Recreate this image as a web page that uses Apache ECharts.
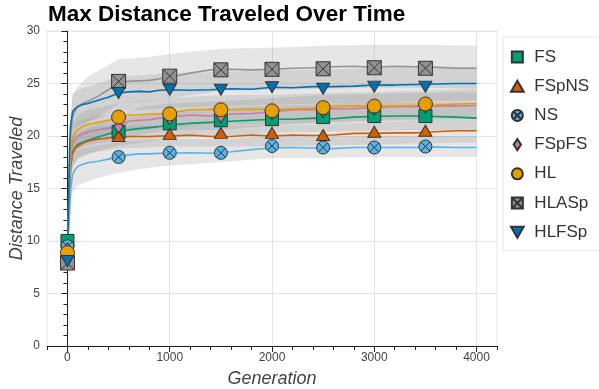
<!DOCTYPE html>
<html><head><meta charset="utf-8">
<script src="https://cdn.jsdelivr.net/npm/echarts@6/dist/echarts.min.js"></script>
<style>html,body{margin:0;padding:0;background:#fff}#c{width:599px;height:389px}</style>
</head><body><div id="c"></div>
<script>
const seriesNames = ['FS','FSpNS','NS','FSpFS','HL','HLASp','HLFSp'];
const seriesColors = ['#009E73','#D55E00','#56B4E9','#CC79A7','#E69F00','#939393','#0072B2'];
const xLabelValues = [0,1000,2000,3000,4000];

const lineGen = [0,10,20,30,50,75,100,150,200,300,400,500,600,700,800,900,1000,1200,1400,1600,1800,2000,2200,2400,2600,2800,3000,3200,3400,3600,3800,4000];
const FS_line    = [10.0,11.5,15.0,17.0,18.5,18.9,19.2,19.4,19.6,19.9,20.2,20.4,20.6,20.7,20.8,20.9,21.05,21.2,21.3,21.4,21.5,21.6,21.6,21.7,21.65,21.8,21.85,21.9,21.9,21.85,21.8,21.7];
const FSpNS_line = [8.7,11.5,15.0,17.0,18.3,18.8,19.0,19.3,19.5,19.7,19.8,19.9,19.95,19.95,19.95,20.0,20.0,20.1,19.95,19.95,20.1,20.0,20.1,20.05,20.1,20.25,20.25,20.3,20.3,20.4,20.5,20.5];
const NS_line    = [9.5,11.0,12.8,14.8,16.3,16.8,17.1,17.3,17.45,17.6,17.8,18.0,18.2,18.3,18.3,18.35,18.35,18.4,18.35,18.5,18.7,18.85,18.9,18.85,18.8,18.9,18.9,18.9,18.9,18.95,18.9,18.9];
const FSpFS_line = [9.3,12.0,15.5,17.8,19.3,19.7,20.0,20.2,20.4,20.6,20.75,20.9,21.4,21.5,21.55,21.7,21.8,22.0,21.9,22.1,22.15,22.3,22.5,22.5,22.6,22.6,22.7,22.8,22.8,22.85,22.85,22.9];
const HL_line    = [8.9,12.0,16.0,18.3,19.8,20.3,20.6,20.9,21.1,21.3,21.5,21.7,22.0,22.0,22.1,22.1,22.2,22.5,22.55,22.5,22.55,22.5,22.6,22.65,22.8,22.85,22.85,22.85,22.9,22.95,23.05,23.1];
const HLASp_line = [7.9,12.5,17.0,20.0,21.8,22.4,22.8,23.1,23.3,23.8,24.4,25.1,25.2,25.25,25.3,25.45,25.6,26.0,26.3,26.35,26.3,26.35,26.45,26.5,26.6,26.65,26.55,26.65,26.6,26.55,26.45,26.45];
const HLFSp_line = [8.1,13.5,18.5,21.0,22.3,22.6,22.8,23.0,23.1,23.4,23.7,24.1,24.2,24.25,24.2,24.35,24.4,24.35,24.4,24.5,24.45,24.65,24.6,24.7,24.7,24.75,24.85,24.85,24.9,24.95,25.0,25.0];

const markerGen = [0,500,1000,1500,2000,2500,3000,3500];
const FS_mk    = [10.0,20.4,21.2,21.5,21.6,21.8,21.9,21.9];
const FSpNS_mk = [8.7,20.0,20.2,20.3,20.3,20.1,20.4,20.5];
const NS_mk    = [9.5,18.0,18.4,18.4,19.05,18.9,18.9,19.0];
const FSpFS_mk = [9.2,20.9,21.7,21.9,22.2,22.4,22.6,22.8];
const HL_mk    = [8.9,21.8,22.1,22.5,22.4,22.7,22.85,23.05];
const HLASp_mk = [7.9,25.2,25.7,26.3,26.35,26.4,26.5,26.45];
const HLFSp_mk = [8.1,24.1,24.4,24.4,24.65,24.5,24.7,24.7];

const bandGen = [0,25,50,100,200,300,500,750,1000,1500,2000,2500,3000,3500,4000];
const FS_lo    = [9.5,14.5,17.1,17.9,18.3,18.6,19.1,19.4,19.8,20.0,20.3,20.4,20.5,20.6,20.4];
const FS_hi    = [10.5,17.5,19.9,20.5,20.9,21.2,21.7,22.0,22.3,22.7,22.9,23.0,23.2,23.2,23.0];
const FSpNS_lo = [8.2,14.5,17.0,17.8,18.3,18.5,18.8,18.9,19.0,19.0,19.0,19.1,19.2,19.3,19.4];
const FSpNS_hi = [9.2,17.5,19.6,20.2,20.7,20.9,21.0,21.0,21.0,21.0,21.0,21.1,21.3,21.5,21.6];
const NS_lo    = [9.0,12.0,14.6,15.3,15.7,16.0,16.5,16.9,17.2,17.5,17.9,17.9,18.0,18.0,18.0];
const NS_hi    = [10.0,15.0,17.8,18.6,18.9,19.1,19.4,19.6,19.7,19.7,20.0,19.9,20.0,20.0,20.0];
const FSpFS_lo = [8.8,15.0,17.9,18.7,19.1,19.3,19.6,20.2,20.5,20.6,21.0,21.2,21.4,21.5,21.6];
const FSpFS_hi = [9.8,18.0,20.7,21.3,21.7,21.9,22.2,22.8,23.1,23.3,23.6,23.9,24.0,24.1,24.2];
const HL_lo    = [8.4,15.5,18.4,19.2,19.7,19.9,20.3,20.6,20.8,21.1,21.1,21.3,21.5,21.6,21.7];
const HL_hi    = [9.4,18.5,21.2,22.0,22.5,22.7,23.1,23.4,23.6,23.9,23.9,24.1,24.2,24.3,24.5];
const HLASp_lo = [7.5,16.0,19.9,20.8,21.3,21.8,23.1,23.3,23.6,24.3,24.4,24.5,24.6,24.6,24.5];
const HLASp_hi = [8.4,20.2,24.0,24.7,25.7,26.2,27.3,27.5,27.8,28.3,28.4,28.6,28.7,28.7,28.6];
const HLFSp_lo = [7.6,17.5,20.6,21.1,21.4,21.7,22.4,22.5,22.7,22.8,23.0,23.1,23.2,23.3,23.4];
const HLFSp_hi = [8.6,21.5,23.9,24.4,24.7,25.0,25.7,25.8,26.0,26.1,26.3,26.3,26.5,26.6,26.6];

const lines = [FS_line,FSpNS_line,NS_line,FSpFS_line,HL_line,HLASp_line,HLFSp_line];
const marks = [FS_mk,FSpNS_mk,NS_mk,FSpFS_mk,HL_mk,HLASp_mk,HLFSp_mk];
const los = [FS_lo,FSpNS_lo,NS_lo,FSpFS_lo,HL_lo,HLASp_lo,HLFSp_lo];
const his = [FS_hi,FSpNS_hi,NS_hi,FSpFS_hi,HL_hi,HLASp_hi,HLFSp_hi];

const P = {
  rect: 'path://M0,0L10,0L10,10L0,10Z',
  tri: 'path://M5,0L10,8.66L0,8.66Z',
  circleX: 'path://M0,5A5,5,0,1,1,10,5A5,5,0,1,1,0,5ZM1.46,1.46L8.54,8.54M8.54,1.46L1.46,8.54',
  diamond: 'path://M3.33,0L6.67,5L3.33,10L0,5Z',
  circle: 'path://M0,5A5,5,0,1,1,10,5A5,5,0,1,1,0,5Z',
  squareX: 'path://M0,0L10,0L10,10L0,10ZM0,0L10,10M10,0L0,10',
  invTri: 'path://M0,0L10,0L5,8.66Z'
};
const chartSymbols = ['rect','triangle',P.circleX,'diamond','circle',P.squareX,P.invTri];
const chartSizes = [[13,13],[13,11],[13,13],[9,13],[14,14],[14,14],[13,11]];
const legendIcons = [P.rect,P.tri,P.circleX,P.diamond,P.circle,P.squareX,P.invTri];

const FONT = '"Liberation Sans", Arial, Helvetica, sans-serif';
const series = [];
seriesNames.forEach((n,k)=>{
  const rows = bandGen.map((g,i)=>[g, los[k][i], his[k][i]]);
  series.push({
    type:'custom', name:n+' band', silent:true, z:1, clip:true,
    data: rows, encode:{x:0, y:[1,2]},
    renderItem: function(params, api){
      if (params.dataIndex !== 0) return null;
      const pts = [];
      for (let i=0;i<rows.length;i++) pts.push(api.coord([rows[i][0], rows[i][1]]));
      for (let i=rows.length-1;i>=0;i--) pts.push(api.coord([rows[i][0], rows[i][2]]));
      return {type:'polygon', shape:{points:pts}, style:{fill:'rgba(128,128,128,0.2)'}};
    }
  });
});
seriesNames.forEach((n,k)=>{
  series.push({
    type:'line', name:n+' line', z:2, showSymbol:false, silent:true,
    data: lineGen.map((g,i)=>[g, lines[k][i]]),
    lineStyle:{color:seriesColors[k], width:1.6}
  });
});
seriesNames.forEach((n,k)=>{
  series.push({
    type:'scatter', name:n, z:3, silent:true,
    symbol: chartSymbols[k], symbolSize: chartSizes[k],
    data: markerGen.map((g,i)=>[g, marks[k][i]]),
    itemStyle:{color:seriesColors[k], borderColor:'#333', borderWidth:1, opacity:1}
  });
});

const chart = echarts.init(document.getElementById('c'), null, {renderer:'canvas'});
chart.setOption({
  animation:false,
  backgroundColor:'#fff',
  textStyle:{fontFamily:FONT},
  title:{text:'Max Distance Traveled Over Time', left:48, top:3, padding:0,
    textStyle:{fontSize:22.5, fontWeight:'bold', color:'#000', fontFamily:FONT}},
  grid:{left:47, right:102, top:31, bottom:43, show:true, borderColor:'#e5e5e5', borderWidth:1,
    backgroundColor:'transparent', containLabel:false, outerBoundsMode:'none'},
  legend:{
    orient:'vertical', left:503, top:37,
    data: seriesNames.map((n,k)=>({name:n, icon:legendIcons[k]})),
    itemWidth:24, itemHeight:11, itemGap:12.2, symbolKeepAspect:true,
    padding:[11.5,40,10,7], borderColor:'#e5e5e5', borderWidth:1, backgroundColor:'#fff',
    textStyle:{fontSize:17, color:'#333', lineHeight:17, fontFamily:FONT},
    selectedMode:false
  },
  xAxis:[{
    type:'value', min:-200, max:4200, interval:200,
    name:'Generation', nameLocation:'middle', nameGap:24, nameMoveOverlap:false,
    nameTextStyle:{fontSize:18, fontStyle:'italic', color:'#444', fontFamily:FONT},
    axisLine:{show:true, lineStyle:{color:'#222', width:1}},
    axisTick:{show:true, length:4, lineStyle:{color:'#222'}},
    axisLabel:{color:'#444', fontSize:12, margin:6, fontFamily:FONT,
      formatter:function(v){ return xLabelValues.indexOf(v) >= 0 ? String(v) : ''; }},
    splitLine:{show:false}
  },{
    type:'value', gridIndex:0, position:'bottom', min:-200, max:4200,
    axisLine:{show:false}, axisLabel:{show:false},
    axisTick:{show:true, length:6, customValues:xLabelValues, lineStyle:{color:'#222'}},
    splitLine:{show:true, lineStyle:{color:'#e5e5e5', width:1}}
  }],
  yAxis:{
    type:'value', min:0, max:30, interval:5,
    name:'Distance Traveled', nameLocation:'middle', nameGap:21, nameMoveOverlap:false,
    nameTextStyle:{fontSize:18, fontStyle:'italic', color:'#444', fontFamily:FONT},
    axisLine:{show:true, lineStyle:{color:'#222', width:1}},
    axisTick:{show:true, length:6, lineStyle:{color:'#222'}},
    minorTick:{show:true, splitNumber:5, length:4, lineStyle:{color:'#222'}},
    axisLabel:{color:'#444', fontSize:12, margin:7, fontFamily:FONT},
    splitLine:{show:true, lineStyle:{color:'#e5e5e5', width:1}}
  },
  series: series
});
</script></body></html>
